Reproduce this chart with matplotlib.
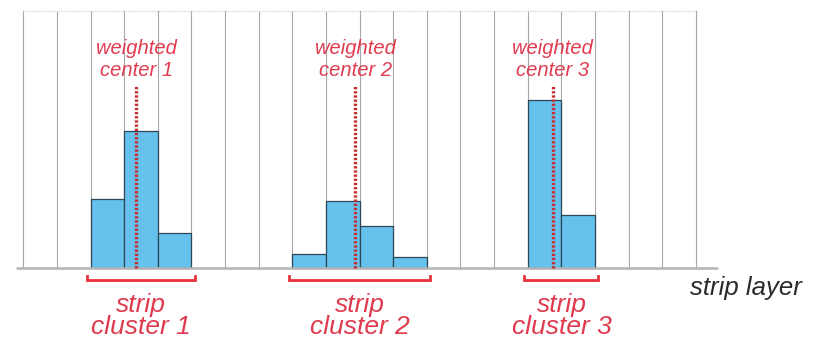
import matplotlib
matplotlib.use("Agg")
import matplotlib.pyplot as plt
import numpy as np

# ---- data ----
n_strips = 20
cluster_starts = [2, 8, 15]                 # first strip index of each cluster
cluster_values = [[69, 137, 35],
                  [14, 67, 42, 11],
                  [168, 53]]
center_labels = ["weighted\ncenter 1", "weighted\ncenter 2", "weighted\ncenter 3"]
cluster_labels = ["strip\ncluster 1", "strip\ncluster 2", "strip\ncluster 3"]
axis_label = "strip layer"

# ---- styles ----
W, H = 823, 341
x0_px, sw_px, base_px = 23.3, 33.63, 267.7
bar_color = "#66c1ec"
edge_color = "#2f4656"
red_text = "#e03a4e"
red_line = "#e8313c"
dot_color = "#c62f2f"
grid_color = "#a8a8a8"
font = ["Liberation Sans", "DejaVu Sans"]

fig = plt.figure(figsize=(W / 100, H / 100), dpi=100)
ax = fig.add_axes([0, 0, 1, 1])
ax.set_xlim(-x0_px / sw_px, (W - x0_px) / sw_px)
ax.set_ylim(base_px - H, base_px)
ax.axis("off")

top = base_px - 10.7
# grid of strips
for i in range(n_strips + 1):
    ax.plot([i, i], [0, top], color=grid_color, lw=0.8, zorder=1)
ax.plot([0, n_strips], [top, top], color="#cfcfcf", lw=0.8, ls=(0, (1, 1)), zorder=1)
# baseline
ax.plot([-0.22, 20.66], [0, 0], color="#b4b4b4", lw=1.8, zorder=4, solid_capstyle="butt")

for k, (s0, vals) in enumerate(zip(cluster_starts, cluster_values)):
    idx = np.arange(s0, s0 + len(vals))
    ax.bar(idx + 0.5, vals, width=1.0, color=bar_color, edgecolor=edge_color,
           linewidth=0.9, zorder=3)
    v = np.array(vals, dtype=float)
    c = np.sum((idx + 0.5) * v) / v.sum()
    ax.plot([c, c], [0, 181.7], color=dot_color, lw=2.4,
            ls=(0, (0.7, 0.55)), zorder=5)
    l1, l2 = center_labels[k].split("\n")
    ax.text(c, 218.7, l1, color=red_text, fontsize=14.5, style="italic",
            family=font, ha="center", va="center", zorder=6)
    ax.text(c, 197.7, l2, color=red_text, fontsize=14.5, style="italic",
            family=font, ha="center", va="center", zorder=6)
    # bracket
    a, b = s0 - 0.1, s0 + len(vals) + 0.1
    ax.plot([a, a, b, b], [-8.5, -12.3, -12.3, -8.5], color=red_line, lw=2.0,
            zorder=4, solid_joinstyle="miter")
    m = (s0 + s0 + len(vals)) / 2
    c1, c2 = cluster_labels[k].split("\n")
    ax.text(m, -37.0, c1, color=red_text, fontsize=19, style="italic",
            family=font, ha="center", va="center")
    ax.text(m, -59.5, c2, color=red_text, fontsize=19, style="italic",
            family=font, ha="center", va="center")

ax.text((746 - x0_px) / sw_px, base_px - 288, axis_label, color="#2a2a2a",
        fontsize=18.5, style="italic", family=font, ha="center", va="center")

fig.savefig("out.png", dpi=100)
